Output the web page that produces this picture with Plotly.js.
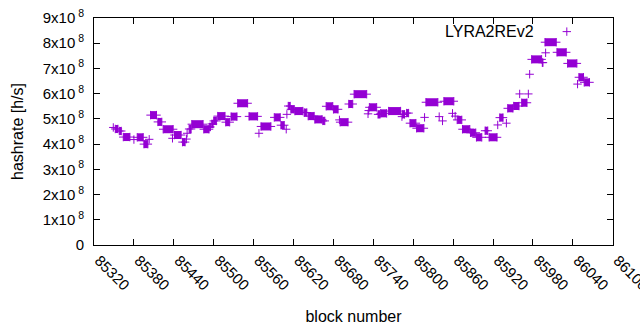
<!DOCTYPE html>
<html><head><meta charset="utf-8">
<script src="https://cdn.plot.ly/plotly-3.0.1.min.js"></script>
<style>html,body{margin:0;padding:0;background:#fff}#chart{width:640px;height:330px}</style>
</head><body><div id="chart"></div>
<script>
// Runs of consecutive blocks sharing the same hashrate (start block, end block, hashrate in h/s)
const runStart = [85349,85352,85358,85364,85380,85385,85395,85403,85405,85416,85424,85438,85441,85453,85459,85460,85463,85467,85485,85494,85497,85500,85506,85518,85526,85536,85553,85568,85571,85591,85601,85609,85610,85612,85616,85622,85636,85642,85652,85664,85669,85680,85689,85690,85703,85711,85732,85733,85734,85747,85751,85763,85783,85784,85790,85795,85805,85817,85819,85839,85844,85846,85859,85863,85866,85874,85886,85895,85908,85914,85927,85930,85940,85942,85951,85960,85963,85973,85975,85978,85994,85998,85999,86016,86032,86047,86049,86057];
const runEnd   = [85349,85356,85361,85374,85380,85394,85401,85403,85414,85422,85439,85438,85451,85457,85459,85460,85466,85484,85493,85495,85499,85504,85517,85524,85535,85551,85566,85568,85586,85600,85606,85609,85610,85615,85621,85634,85640,85651,85663,85667,85679,85687,85689,85702,85709,85730,85732,85733,85745,85750,85760,85781,85783,85787,85793,85804,85816,85817,85837,85839,85844,85861,85859,85863,85873,85885,85894,85903,85912,85926,85927,85935,85940,85950,85959,85960,85971,85973,85975,85993,85995,86015,85999,86030,86046,86047,86056,86065];
const hashrate = [4.66e8,4.60e8,4.52e8,4.28e8,4.18e8,4.27e8,4.00e8,4.19e8,5.15e8,4.88e8,4.59e8,4.23e8,4.36e8,4.08e8,4.20e8,4.43e8,4.60e8,4.79e8,4.59e8,4.68e8,4.80e8,4.92e8,5.11e8,4.87e8,5.09e8,5.62e8,5.10e8,4.43e8,4.70e8,5.06e8,4.75e8,4.59e8,5.18e8,5.51e8,5.38e8,5.31e8,5.25e8,5.11e8,4.98e8,4.92e8,5.50e8,5.38e8,4.96e8,4.87e8,5.59e8,5.98e8,5.20e8,5.33e8,5.46e8,5.18e8,5.22e8,5.31e8,5.09e8,5.18e8,5.23e8,4.83e8,4.63e8,5.06e8,5.66e8,5.09e8,4.92e8,5.70e8,5.22e8,5.11e8,4.96e8,4.59e8,4.45e8,4.27e8,4.53e8,4.27e8,4.76e8,5.05e8,4.83e8,5.42e8,5.51e8,5.99e8,5.64e8,5.99e8,6.77e8,7.36e8,7.23e8,8.04e8,7.62e8,7.64e8,7.20e8,6.38e8,6.65e8,6.45e8];

const xTickVals = [85320,85380,85440,85500,85560,85620,85680,85740,85800,85860,85920,85980,86040,86100];
const xTickText = ['85320','85380','85440','85500','85560','85620','85680','85740','85800','85860','85920','85980','86040','86100'];
const yTickVals = [0,1e8,2e8,3e8,4e8,5e8,6e8,7e8,8e8,9e8];
const yTickText = ['0','1x10<sup> 8</sup>','2x10<sup> 8</sup>','3x10<sup> 8</sup>','4x10<sup> 8</sup>','5x10<sup> 8</sup>','6x10<sup> 8</sup>','7x10<sup> 8</sup>','8x10<sup> 8</sup>','9x10<sup> 8</sup>'];
const seriesName = 'LYRA2REv2';
const keySample = {x:[0.911], y:[0.94]};

const color = '#9400d3';
const FONT = '"Liberation Sans", Arial, sans-serif';

const xs = [], ys = [];
for (let i = 0; i < runStart.length; i++) {
  xs.push(runStart[i]); ys.push(hashrate[i]);
  if (runEnd[i] !== runStart[i]) { xs.push(runEnd[i]); ys.push(hashrate[i]); }
  xs.push(null); ys.push(null);
}

const markerStyle = {symbol:'cross-thin-open', size:6, color:color, line:{width:1, color:color}};

const traces = [
  {x:xs, y:ys, type:'scatter', mode:'lines+markers', name:seriesName, connectgaps:false,
   line:{color:color, width:8}, marker:markerStyle, showlegend:false, hoverinfo:'x+y'},
  {x:keySample.x, y:keySample.y, xaxis:'x2', yaxis:'y2', type:'scatter', mode:'markers',
   marker:markerStyle, showlegend:false, hoverinfo:'skip'}
];

const axisCommon = {showline:true, linecolor:'#000', linewidth:1, mirror:'allticks', ticks:'inside', ticklen:6, tickcolor:'#000', tickwidth:1, showgrid:false, zeroline:false};

const layout = {
  width:640, height:330,
  margin:{l:94, r:27, t:18, b:85, pad:0},
  paper_bgcolor:'#fff', plot_bgcolor:'#fff',
  font:{family:FONT, size:15, color:'#000'},
  showlegend:false,
  xaxis: Object.assign({}, axisCommon, {
    range:[85320,86100.3], tickmode:'array', tickvals:xTickVals, ticktext:xTickText, tickangle:45,
    ticklabeloverflow:'allow', ticklabelshift:5,
    tickfont:{family:FONT, size:15, color:'#000'},
    title:{text:'block number', font:{family:FONT, size:16, color:'#000'}, standoff:18}
  }),
  yaxis: Object.assign({}, axisCommon, {
    range:[0,9e8], tickmode:'array', tickvals:yTickVals, ticktext:yTickText,
    tickfont:{family:FONT, size:15, color:'#000'}, ticklabelstandoff:6,
    title:{text:'hashrate [h/s]', font:{family:FONT, size:16, color:'#000'}, standoff:15}
  }),
  xaxis2:{overlaying:'x', range:[0,1], visible:false, fixedrange:true},
  yaxis2:{overlaying:'y', range:[0,1], visible:false, fixedrange:true},
  annotations:[
    {xref:'paper', yref:'paper', x:0.851, y:0.9405, xanchor:'right', yanchor:'middle', text:seriesName, showarrow:false, font:{family:FONT, size:16, color:'#000'}}
  ]
};

Plotly.newPlot('chart', traces, layout, {displayModeBar:false, staticPlot:true});
</script>
</body></html>
